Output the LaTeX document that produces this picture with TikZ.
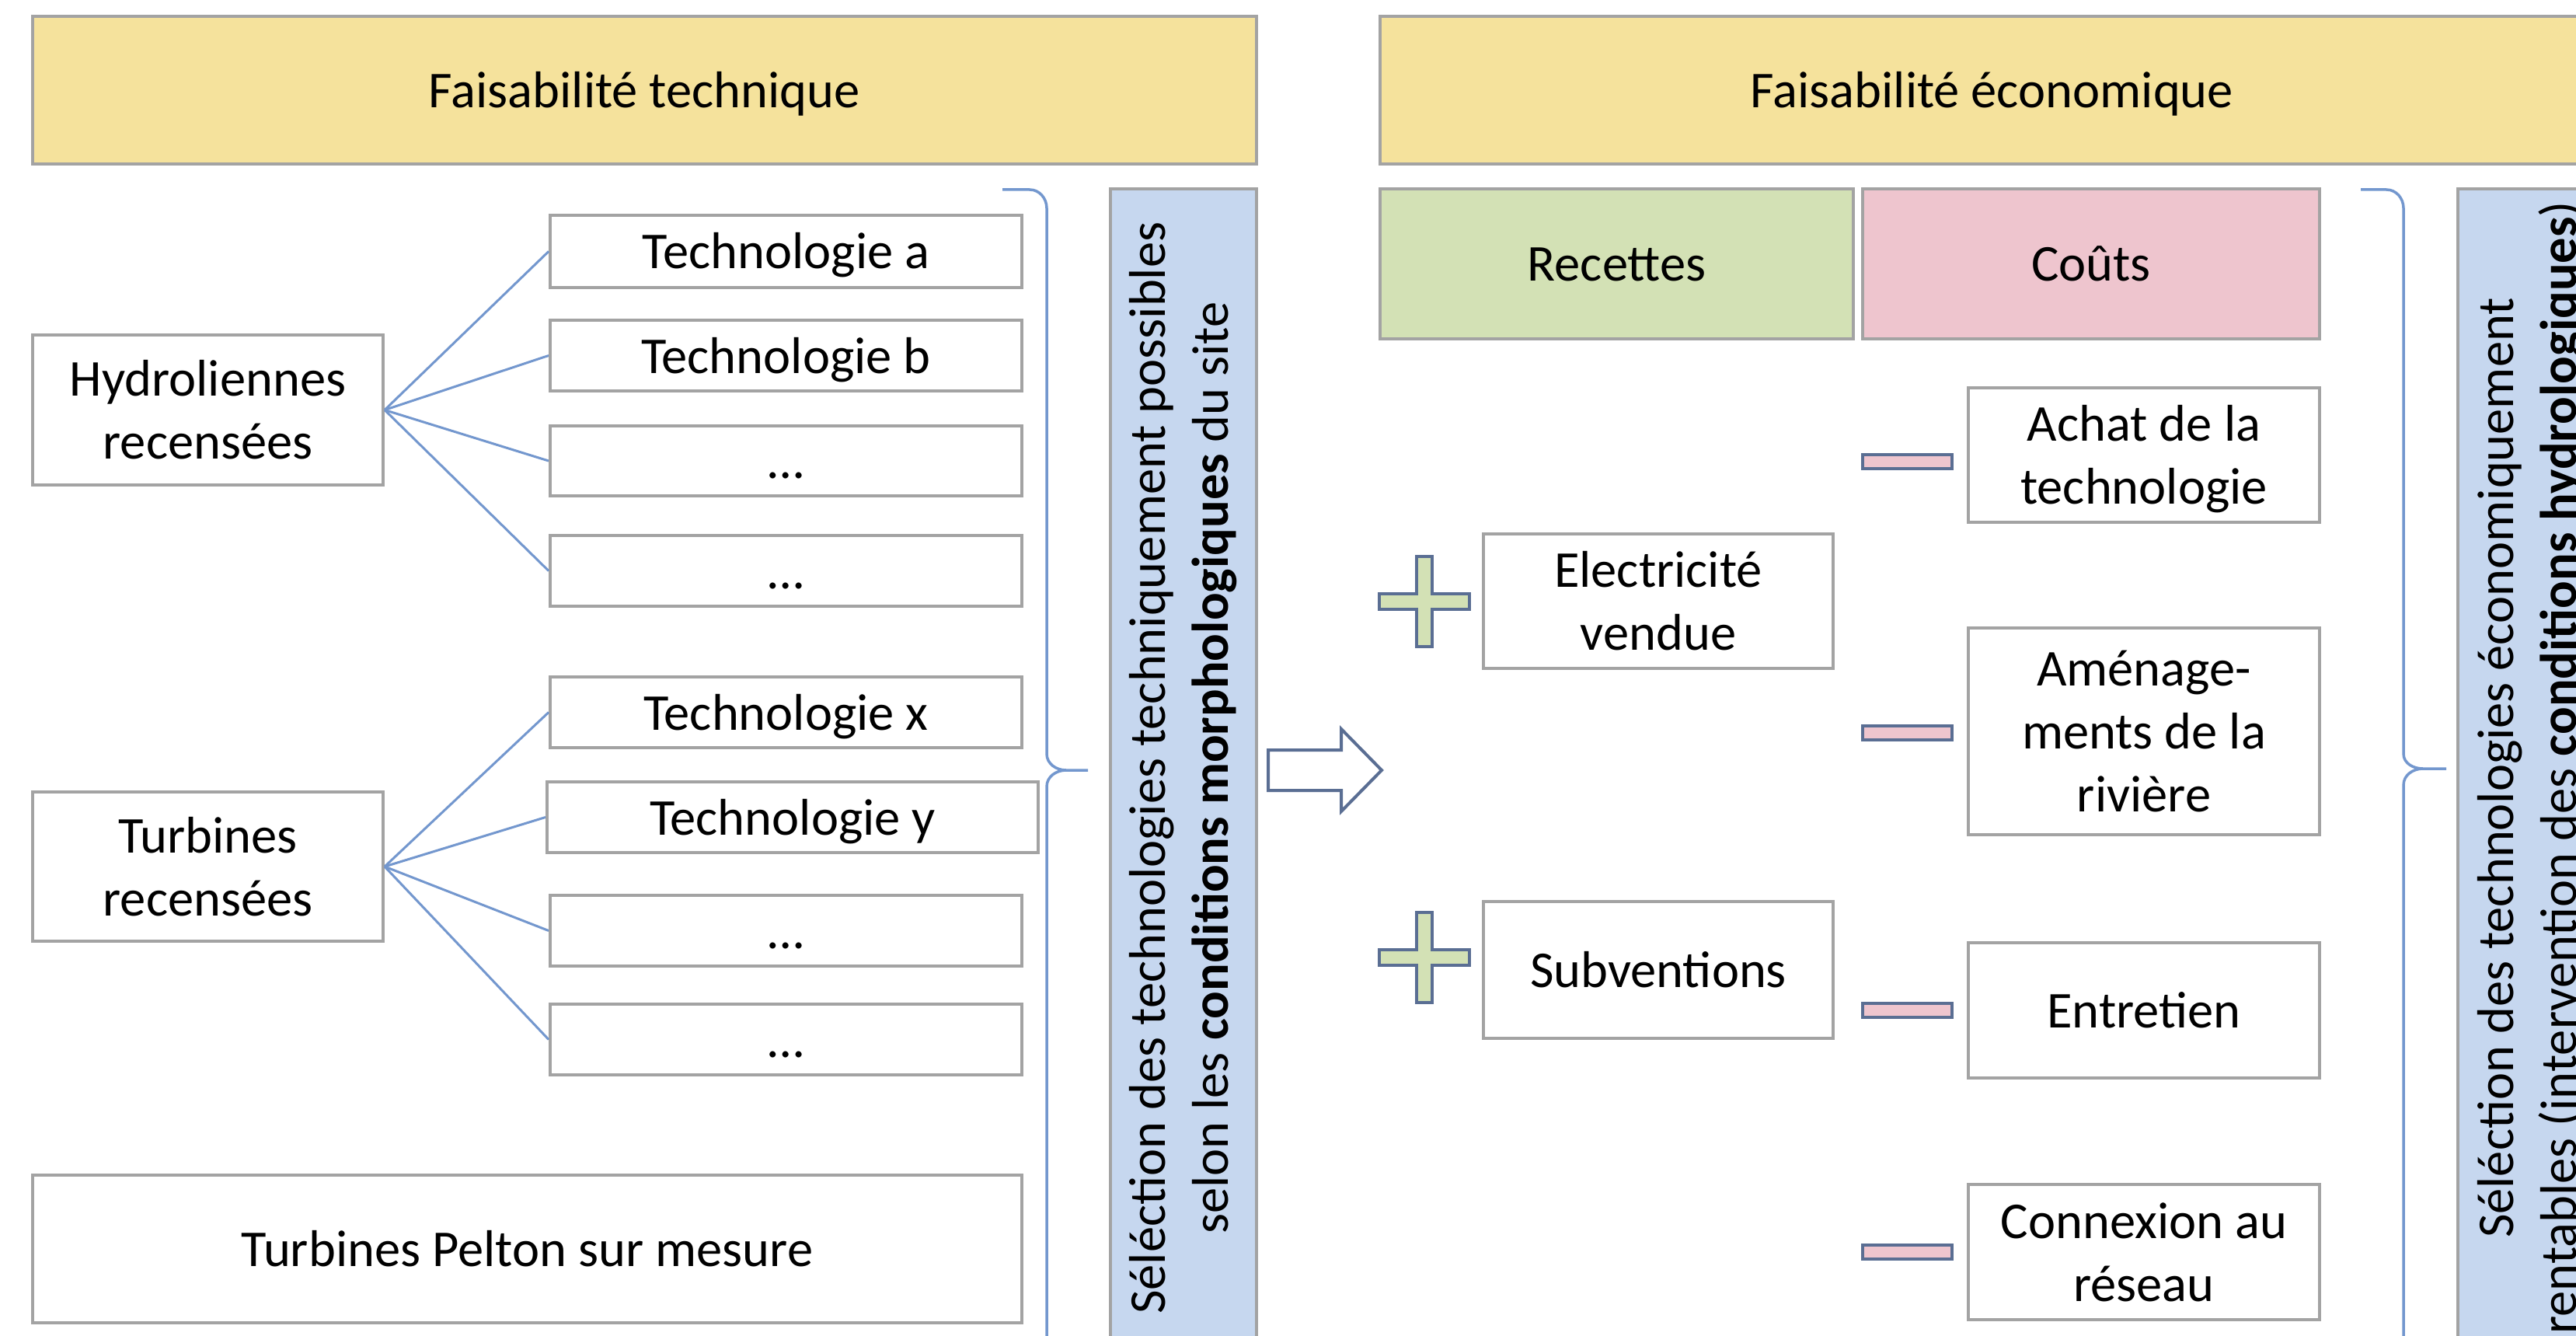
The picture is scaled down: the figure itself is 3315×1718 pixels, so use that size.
\documentclass[tikz,border=0pt]{standalone}
\usepackage{fontspec}
\setmainfont{Carlito}

\definecolor{hdr}{HTML}{F5E29C}
\definecolor{selblue}{HTML}{C6D7EF}
\definecolor{recgreen}{HTML}{D3E1B5}
\definecolor{costpink}{HTML}{EEC5CE}
\definecolor{frame}{HTML}{A3A3A3}
\definecolor{link}{HTML}{7397CE}
\definecolor{signline}{HTML}{5A6E93}

% invisible strut giving every text block the full line ascent and descent
\newcommand\linestrut{\rule[-3.6pt]{0pt}{16.2pt}}

% a rectangular node given by its corners: name, x1, y1, x2, y2, style, text
\newcommand\boxat[7]{%
  \node[#6, minimum width={(#4-#2)*0.2pt}, minimum height={(#5-#3)*0.2pt}]
    (#1) at ({(#2+#4)/2},{(#3+#5)/2}) {\linestrut#7\linestrut};}

\tikzset{
  base/.style={draw=frame, line width=0.8pt, inner xsep=2pt, inner ysep=0pt,
    align=center, font=\fontsize{13.3}{16.2}\selectfont, text=black},
  plain/.style={base, fill=white},
  header/.style={base, fill=hdr},
  recettes/.style={base, fill=recgreen},
  couts/.style={base, fill=costpink},
  selection/.style={base, fill=selblue, rotate=90,
    minimum width={1490*0.2pt}, minimum height={188*0.2pt}},
  conn/.style={draw=link, line width=0.6pt},
  bracket/.style={draw=link, line width=0.7pt},
  signshape/.style={draw=signline, line width=0.8pt, line join=miter},
}

\begin{document}
\begin{tikzpicture}[x=0.2pt, y=-0.2pt]
\useasboundingbox (0,0) rectangle (3315,1718);
\clip (0,0) rectangle (3315,1718);
\fill[white] (0,0) rectangle (3315,1718);

% ---- headers
\boxat{hdrtech}{42}{21}{1617}{211}{header}{Faisabilité technique}
\boxat{hdreco}{1776}{21}{3351}{211}{header}{Faisabilité économique}

% ---- technical feasibility
\boxat{hydro}{42}{431}{493}{624}{plain}{Hydroliennes\\recensées}
\boxat{ta}{708}{277}{1315}{370}{plain}{Technologie a}
\boxat{tb}{708}{412}{1315}{503}{plain}{Technologie b}
\boxat{tc}{708}{548}{1315}{638}{plain}{…}
\boxat{td}{708}{689}{1315}{780}{plain}{…}

\boxat{turb}{42}{1019}{493}{1211}{plain}{Turbines\\recensées}
\boxat{tx}{708}{871}{1315}{962}{plain}{Technologie x}
\boxat{ty}{704}{1006}{1336}{1097}{plain}{Technologie y}
\boxat{tz}{708}{1152}{1315}{1243}{plain}{…}
\boxat{tw}{708}{1292}{1315}{1383}{plain}{…}

\boxat{pelton}{42}{1512}{1315}{1702}{plain}{Turbines Pelton sur mesure}

\foreach \t in {ta,tb,tc,td} \draw[conn] (hydro.east) -- (\t.west);
\foreach \t in {tx,ty,tz,tw} \draw[conn] (turb.east) -- (\t.west);

% brace gathering the technical options
\draw[bracket] (1290,244) -- (1325,244) to[out=0,in=90] (1347,268) -- (1347,970)
  to[out=-90,in=180] (1372,991) -- (1400,991);
\draw[bracket] (1372,991) to[out=180,in=90] (1347,1012) -- (1347,1760);

\node[selection, inner ysep=2pt] (seltech) at (1523,988)
  {Séléction des technologies techniquement possibles\\
   selon les \textbf{conditions morphologiques} du site};

% ---- transition arrow
\draw[signshape, fill=white] (1632,965) -- (1726,965) -- (1726,938) -- (1778,991)
  -- (1726,1044) -- (1726,1017) -- (1632,1017) -- cycle;

% ---- economic feasibility
\boxat{rec}{1776}{243}{2385}{436}{recettes}{Recettes}
\boxat{cout}{2397}{243}{2985}{436}{couts}{Coûts}

\boxat{elec}{1909}{687}{2359}{860}{plain}{Electricité\\vendue}
\boxat{subv}{1909}{1160}{2359}{1336}{plain}{Subventions}

\boxat{achat}{2533}{499}{2985}{672}{plain}{Achat de la\\technologie}
\boxat{amen}{2533}{808}{2985}{1074}{plain}{Aménage-\\ments de la\\rivière}
\boxat{entr}{2533}{1213}{2985}{1387}{plain}{Entretien}
\boxat{cnx}{2533}{1524}{2985}{1698}{plain}{Connexion au\\réseau}

% plus signs for revenues
\foreach \py in {774,1232}
  \draw[signshape, fill=recgreen] (1833,\py) ++(-10,-58) -- ++(20,0) -- ++(0,48)
    -- ++(48,0) -- ++(0,20) -- ++(-48,0) -- ++(0,48) -- ++(-20,0) -- ++(0,-48)
    -- ++(-48,0) -- ++(0,-20) -- ++(48,0) -- cycle;

% minus signs for costs
\foreach \my in {594,943,1300,1611}
  \draw[signshape, fill=costpink] (2397,\my) ++(0,-9) rectangle ++(115,18);

% brace gathering the economic items
\draw[bracket] (3038,244) -- (3071,244) to[out=0,in=90] (3093,268) -- (3093,970)
  to[out=-90,in=180] (3118,989) -- (3148,989);
\draw[bracket] (3118,989) to[out=180,in=90] (3093,1010) -- (3093,1760);

\node[selection, inner ysep=2pt] (seleco) at (3257,988)
  {Séléction des technologies économiquement\\
   rentables (intervention des \textbf{conditions hydrologiques})};
\end{tikzpicture}
\end{document}
